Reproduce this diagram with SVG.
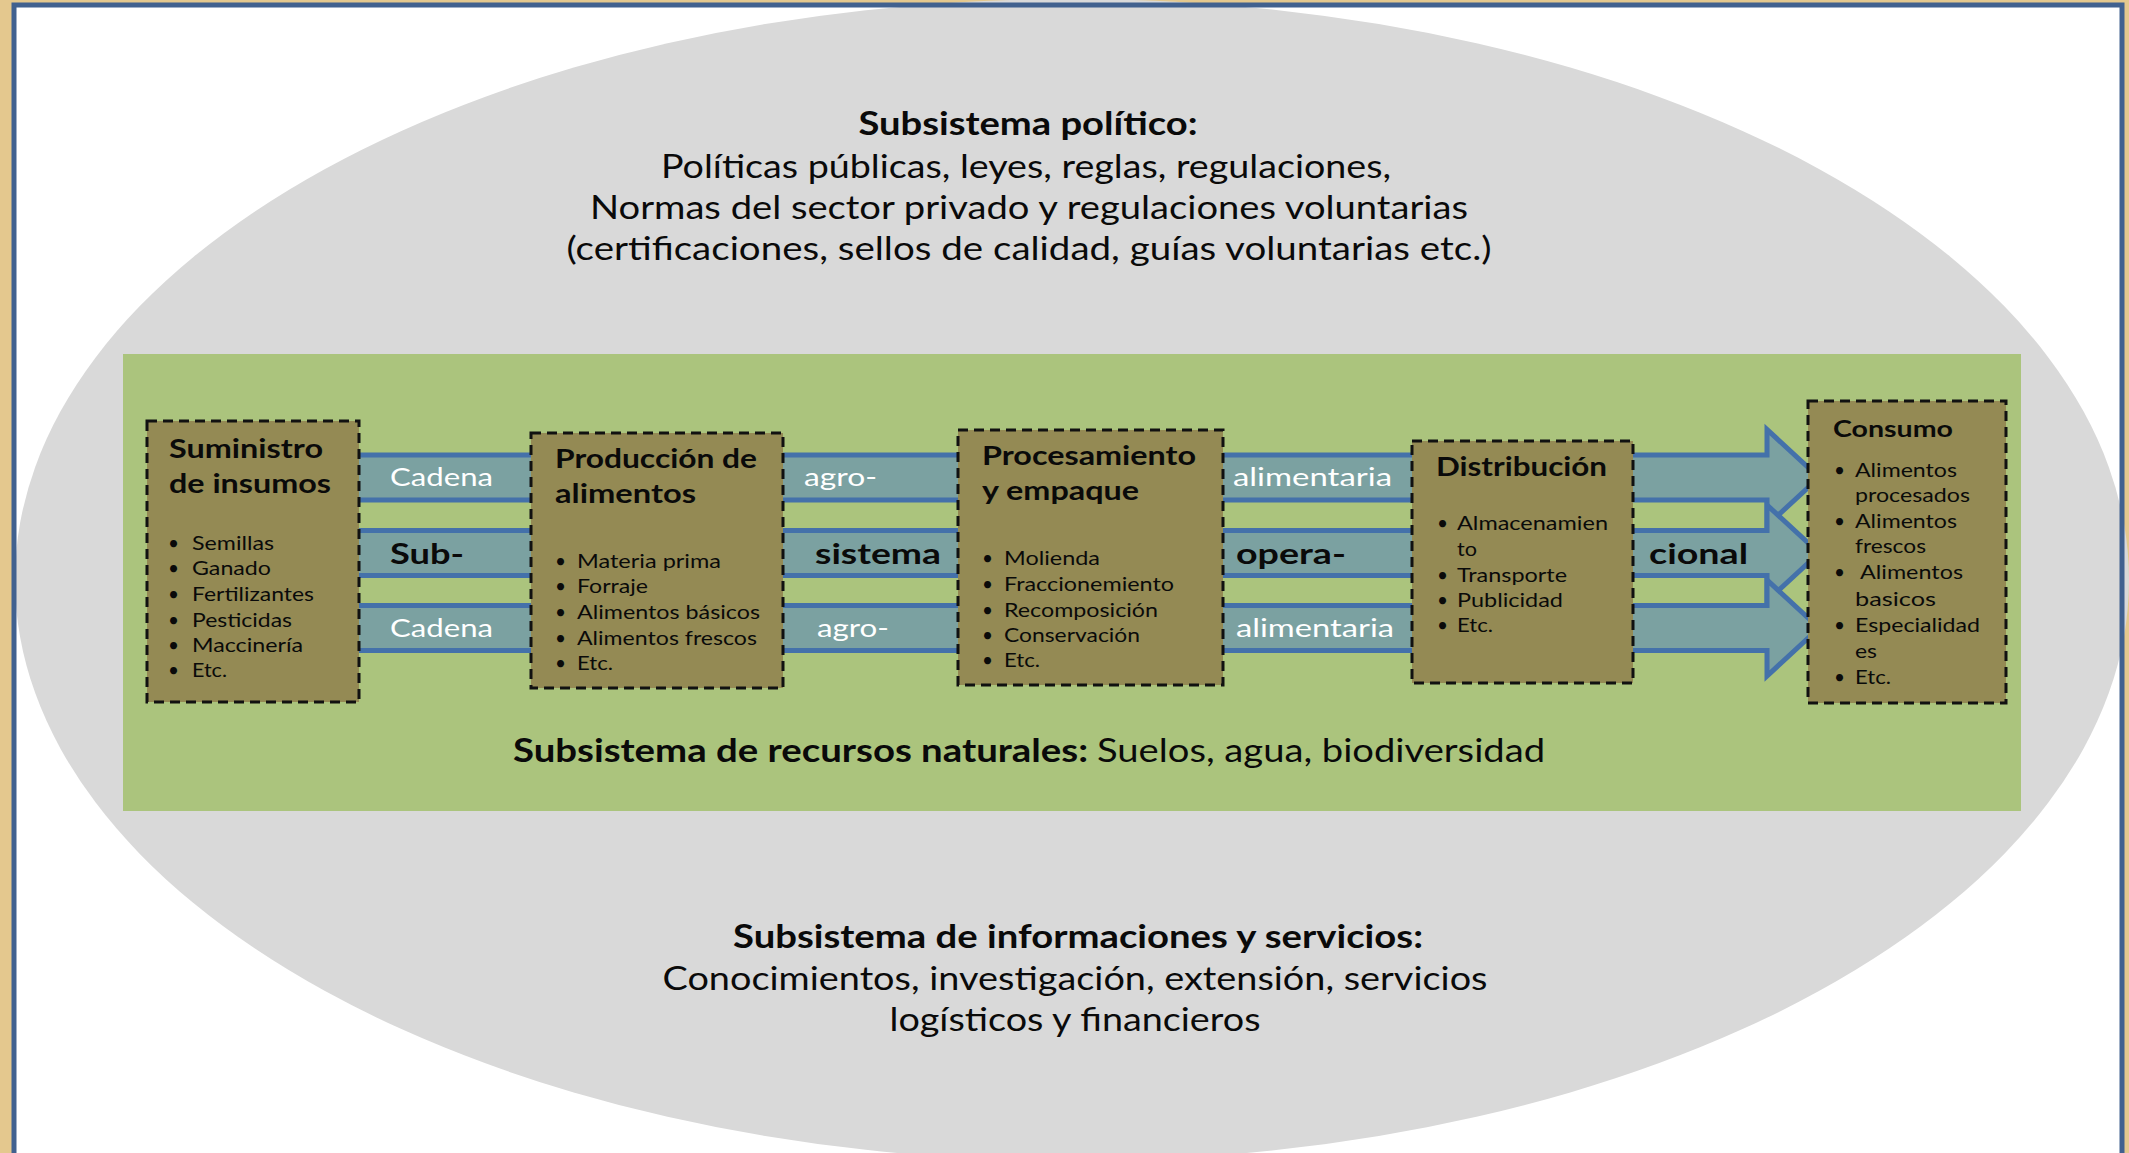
<svg xmlns="http://www.w3.org/2000/svg" width="2129" height="1153" viewBox="0 0 2129 1153">
<defs>
<style>
text{font-family:Lato,"Noto Sans","Liberation Sans",sans-serif;fill:#0a0a0a}
.t{font-size:33px;text-anchor:middle}
.b{font-weight:bold}
.bt{font-size:26.5px;font-weight:bold}
.li{font-size:19px}
.wl{font-size:25px;fill:#fff}
.bl{font-size:28px;font-weight:bold}
.box{fill:#948a54;stroke:#111;stroke-width:3;stroke-dasharray:10 6}
.arr{fill:#7ba1a1;stroke:#4471aa;stroke-width:5;stroke-linejoin:miter}
</style>
</defs>
<rect x="0" y="0" width="2129" height="1153" fill="#e4c88e"/>
<rect x="14" y="5" width="2108" height="1170" fill="#ffffff"/>
<ellipse cx="1072" cy="580" rx="1057" ry="581" fill="#d9d9d9"/>
<rect x="14" y="5" width="2108" height="1170" fill="none" stroke="#41618f" stroke-width="5"/>
<g id="politico">
<text class="t b" x="1028" y="135" textLength="339" lengthAdjust="spacingAndGlyphs">Subsistema político:</text>
<text class="t" x="1026" y="178" textLength="730" lengthAdjust="spacingAndGlyphs">Políticas públicas, leyes, reglas, regulaciones,</text>
<text class="t" x="1029" y="219" textLength="878" lengthAdjust="spacingAndGlyphs">Normas del sector privado y regulaciones voluntarias</text>
<text class="t" x="1029" y="260" textLength="925" lengthAdjust="spacingAndGlyphs">(certificaciones, sellos de calidad, guías voluntarias etc.)</text>
</g>
<g id="recursos">
<rect x="123" y="354" width="1898" height="457" fill="#abc47d"/>
<text class="b" style="font-size:33px" x="513" y="762" textLength="575" lengthAdjust="spacingAndGlyphs">Subsistema de recursos naturales:</text>
<text style="font-size:33px" x="1097" y="762" textLength="448" lengthAdjust="spacingAndGlyphs">Suelos, agua, biodiversidad</text>
</g>
<g id="connectors">
<path class="arr" d="M300,455 L1767,455 L1767,429.5 L1819,477.5 L1767,525.5 L1767,500 L300,500 Z"/>
<path class="arr" d="M300,530.5 L1767,530.5 L1767,505 L1819,553 L1767,601 L1767,575.5 L300,575.5 Z"/>
<path class="arr" d="M300,605.5 L1767,605.5 L1767,580 L1819,628 L1767,676 L1767,650.5 L300,650.5 Z"/>
<text class="wl" x="390" y="486" textLength="103" lengthAdjust="spacingAndGlyphs">Cadena</text>
<text class="wl" x="804" y="486" textLength="73" lengthAdjust="spacingAndGlyphs">agro-</text>
<text class="wl" x="1233" y="486" textLength="159" lengthAdjust="spacingAndGlyphs">alimentaria</text>
<text class="bl" x="390" y="564" textLength="74" lengthAdjust="spacingAndGlyphs">Sub-</text>
<text class="bl" x="815" y="564" textLength="126" lengthAdjust="spacingAndGlyphs">sistema</text>
<text class="bl" x="1236" y="564" textLength="110" lengthAdjust="spacingAndGlyphs">opera-</text>
<text class="bl" x="1649" y="564" textLength="99" lengthAdjust="spacingAndGlyphs">cional</text>
<text class="wl" x="390" y="637" textLength="103" lengthAdjust="spacingAndGlyphs">Cadena</text>
<text class="wl" x="817" y="637" textLength="72" lengthAdjust="spacingAndGlyphs">agro-</text>
<text class="wl" x="1236" y="637" textLength="158" lengthAdjust="spacingAndGlyphs">alimentaria</text>
</g>
<g id="suministro">
<rect class="box" x="147" y="421" width="212" height="281"/>
<text class="bt" x="169" y="458" textLength="154" lengthAdjust="spacingAndGlyphs">Suministro</text>
<text class="bt" x="169" y="493" textLength="162" lengthAdjust="spacingAndGlyphs">de insumos</text>
<text class="li" x="168" y="550">•</text><text class="li" x="192" y="550" textLength="82" lengthAdjust="spacingAndGlyphs">Semillas</text>
<text class="li" x="168" y="575">•</text><text class="li" x="192" y="575" textLength="79" lengthAdjust="spacingAndGlyphs">Ganado</text>
<text class="li" x="168" y="601">•</text><text class="li" x="192" y="601" textLength="122" lengthAdjust="spacingAndGlyphs">Fertilizantes</text>
<text class="li" x="168" y="627">•</text><text class="li" x="192" y="627" textLength="100" lengthAdjust="spacingAndGlyphs">Pesticidas</text>
<text class="li" x="168" y="652">•</text><text class="li" x="192" y="652" textLength="111" lengthAdjust="spacingAndGlyphs">Maccinería</text>
<text class="li" x="168" y="677">•</text><text class="li" x="192" y="677" textLength="35" lengthAdjust="spacingAndGlyphs">Etc.</text>
</g>
<g id="produccion">
<rect class="box" x="531" y="433" width="252" height="255"/>
<text class="bt" x="555" y="468" textLength="202" lengthAdjust="spacingAndGlyphs">Producción de</text>
<text class="bt" x="555" y="503" textLength="141" lengthAdjust="spacingAndGlyphs">alimentos</text>
<text class="li" x="555" y="568">•</text><text class="li" x="577" y="568" textLength="144" lengthAdjust="spacingAndGlyphs">Materia prima</text>
<text class="li" x="555" y="593">•</text><text class="li" x="577" y="593" textLength="71" lengthAdjust="spacingAndGlyphs">Forraje</text>
<text class="li" x="555" y="619">•</text><text class="li" x="577" y="619" textLength="183" lengthAdjust="spacingAndGlyphs">Alimentos básicos</text>
<text class="li" x="555" y="645">•</text><text class="li" x="577" y="645" textLength="180" lengthAdjust="spacingAndGlyphs">Alimentos frescos</text>
<text class="li" x="555" y="670">•</text><text class="li" x="577" y="670" textLength="36" lengthAdjust="spacingAndGlyphs">Etc.</text>
</g>
<g id="procesamiento">
<rect class="box" x="958" y="430" width="265" height="255"/>
<text class="bt" x="982" y="465" textLength="214" lengthAdjust="spacingAndGlyphs">Procesamiento</text>
<text class="bt" x="982" y="500" textLength="157" lengthAdjust="spacingAndGlyphs">y empaque</text>
<text class="li" x="982" y="565">•</text><text class="li" x="1004" y="565" textLength="96" lengthAdjust="spacingAndGlyphs">Molienda</text>
<text class="li" x="982" y="591">•</text><text class="li" x="1004" y="591" textLength="170" lengthAdjust="spacingAndGlyphs">Fraccionemiento</text>
<text class="li" x="982" y="617">•</text><text class="li" x="1004" y="617" textLength="154" lengthAdjust="spacingAndGlyphs">Recomposición</text>
<text class="li" x="982" y="642">•</text><text class="li" x="1004" y="642" textLength="136" lengthAdjust="spacingAndGlyphs">Conservación</text>
<text class="li" x="982" y="667">•</text><text class="li" x="1004" y="667" textLength="36" lengthAdjust="spacingAndGlyphs">Etc.</text>
</g>
<g id="distribucion">
<rect class="box" x="1412" y="441" width="221" height="242"/>
<text class="bt" x="1436" y="476" textLength="171" lengthAdjust="spacingAndGlyphs">Distribución</text>
<text class="li" x="1437" y="530">•</text><text class="li" x="1457" y="530" textLength="151" lengthAdjust="spacingAndGlyphs">Almacenamien</text>
<text class="li" x="1457" y="556" textLength="20" lengthAdjust="spacingAndGlyphs">to</text>
<text class="li" x="1437" y="582">•</text><text class="li" x="1457" y="582" textLength="110" lengthAdjust="spacingAndGlyphs">Transporte</text>
<text class="li" x="1437" y="607">•</text><text class="li" x="1457" y="607" textLength="106" lengthAdjust="spacingAndGlyphs">Publicidad</text>
<text class="li" x="1437" y="632">•</text><text class="li" x="1457" y="632" textLength="36" lengthAdjust="spacingAndGlyphs">Etc.</text>
</g>
<g id="consumo">
<rect class="box" x="1808" y="401" width="198" height="302"/>
<text class="b" style="font-size:22.5px" x="1833" y="437" textLength="120" lengthAdjust="spacingAndGlyphs">Consumo</text>
<text class="li" x="1834" y="477">•</text><text class="li" x="1855" y="477" textLength="102" lengthAdjust="spacingAndGlyphs">Alimentos</text>
<text class="li" x="1855" y="502" textLength="115" lengthAdjust="spacingAndGlyphs">procesados</text>
<text class="li" x="1834" y="528">•</text><text class="li" x="1855" y="528" textLength="102" lengthAdjust="spacingAndGlyphs">Alimentos</text>
<text class="li" x="1855" y="553" textLength="71" lengthAdjust="spacingAndGlyphs">frescos</text>
<text class="li" x="1834" y="579">•</text><text class="li" x="1860" y="579" textLength="103" lengthAdjust="spacingAndGlyphs">Alimentos</text>
<text class="li" x="1855" y="606" textLength="81" lengthAdjust="spacingAndGlyphs">basicos</text>
<text class="li" x="1834" y="632">•</text><text class="li" x="1855" y="632" textLength="125" lengthAdjust="spacingAndGlyphs">Especialidad</text>
<text class="li" x="1855" y="658" textLength="22" lengthAdjust="spacingAndGlyphs">es</text>
<text class="li" x="1834" y="684">•</text><text class="li" x="1855" y="684" textLength="36" lengthAdjust="spacingAndGlyphs">Etc.</text>
</g>
<g id="informaciones">
<text class="t b" x="1078" y="948" textLength="690" lengthAdjust="spacingAndGlyphs">Subsistema de informaciones y servicios:</text>
<text class="t" x="1075" y="990" textLength="825" lengthAdjust="spacingAndGlyphs">Conocimientos, investigación, extensión, servicios</text>
<text class="t" x="1075" y="1031" textLength="371" lengthAdjust="spacingAndGlyphs">logísticos y financieros</text>
</g>
</svg>
